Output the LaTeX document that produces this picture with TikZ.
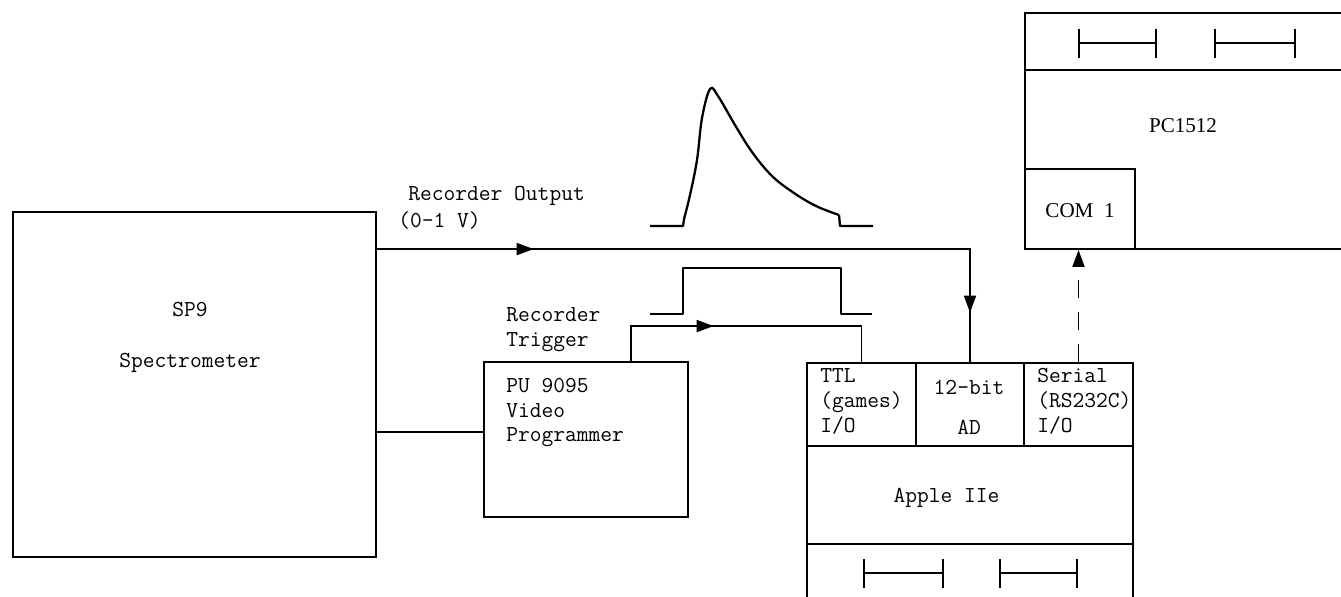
\documentclass[tikz,border=0pt]{standalone}
\usepackage{fontspec}
\setmainfont{Liberation Serif}
\usetikzlibrary{positioning, arrows.meta, calc, decorations.markings}

\begin{document}
\begin{tikzpicture}[
    x=0.02cm, y=-0.02cm,
    unit/.style={
        draw,
        rectangle,
        line width=1.1pt,
        inner sep=0pt
    },
    txt/.style={
        inner sep=0pt,
        align=left,
        font=\ttfamily\fontsize{13}{14.2}\selectfont
    },
    pctxt/.style={
        inner sep=0pt,
        font=\rmfamily\fontsize{12}{14}\selectfont
    },
    wire/.style={
        line width=1.1pt
    },
    sigtip/.tip={Triangle[length=3.4mm, width=2.4mm]},
    midarrow/.style={
        postaction={decorate, decoration={markings, mark=at position #1 with {\arrow{sigtip}}}}
    },
    slotbar/.style={
        line width=1.1pt,
        {Bar[width=5.8mm, line width=1.1pt]}-{Bar[width=5.8mm, line width=1.1pt]}
    },
    wave/.style={
        line width=1.3pt,
        line join=round
    }
]
    \useasboundingbox (0,0) rectangle (1341,596);
    \clip (0,0) rectangle (1341,596);

    % Boxes
    \node[unit, minimum width=7.26cm, minimum height=6.9cm] (sp9) at (194.5,384.5) {};
    \node[unit, minimum width=4.08cm, minimum height=3.1cm] (pu) at (586,439.5) {};
    \node[unit, minimum width=6.52cm, minimum height=5.14cm] (apple) at (970,491.5) {};
    \node[unit, minimum width=2.18cm, minimum height=1.66cm] (ttl) at (861.5,404.5) {};
    \node[unit, minimum width=2.16cm, minimum height=1.66cm] (ad) at (970,404.5) {};
    \node[unit, minimum width=2.18cm, minimum height=1.66cm] (serial) at (1078.5,404.5) {};
    \node[unit, minimum width=6.7cm, minimum height=4.72cm] (pc) at (1192.5,131) {};
    \node[unit, minimum width=2.2cm, minimum height=1.6cm] (com) at (1080,209) {};

    % Dividers
    \draw[wire] ([yshift=-3.64cm]apple.north west) -- ([yshift=-3.64cm]apple.north east);
    \draw[wire] ([yshift=-1.16cm]pc.north west) -- ([yshift=-1.16cm]pc.north east);

    % Labels
    \node[txt] (sp9lbl) at (190,310) {SP9};
    \node[txt] (speclbl) at (190,363) {Spectrometer};
    \node[txt, anchor=west] (pulbl) at (506,412.5) {PU 9095\\Video\\Programmer};
    \node[txt, anchor=west] (ttllbl) at (820,401.5) {TTL\\(games)\\I/O};
    \node[txt, align=center] (adlbl) at (969,407) {12-bit\\[3mm]AD};
    \node[txt, anchor=west] (seriallbl) at (1037,401) {Serial\\(RS232C)\\I/O};
    \node[txt] (applelbl) at (946.5,498) {Apple IIe};
    \node[pctxt] (pclbl) at (1183,126) {PC1512};
    \node[pctxt] (comlbl) at (1080,211) {COM\ \ 1};
    \node[txt, anchor=west] (outlbl) at (408,196) {Recorder Output};
    \node[txt, anchor=west] (voltlbl) at (398,221) {(0-1 V)};
    \node[txt, anchor=west] (triglbl) at (506,329.5) {Recorder\\Trigger};

    % Slot bars
    \draw[slotbar] (863,573) -- (944,573);
    \draw[slotbar] (999,573) -- (1078,573);
    \draw[slotbar] (1078,43) -- (1157,43);
    \draw[slotbar] (1214,43) -- (1296,43);

    % Signals
    \draw[wire, midarrow=0.222, midarrow=0.93] ([yshift=-0.76cm]sp9.north east) -| (ad.north);
    \draw[wire, midarrow=0.39] ([xshift=2.96cm]pu.north west) -- ++(0,-35) -| (ttl.north);
    \coordinate (puin) at ([yshift=0.15cm]pu.west);
    \draw[wire] (puin) -- (puin -| sp9.east);
    \draw[wire, dash pattern=on 0.36cm off 0.28cm, -{sigtip}] (serial.north) -- (serial.north |- com.south);

    % Waveforms
    \draw[wave] (650,226) -- (683,226) -- (684,219);
    \draw[wave] plot[smooth, tension=0.6] coordinates {(684,219) (690,195) (697,160) (702,118) (710,89) (718,96) (735,125) (752,152) (772,176) (794,193) (816,206) (839,215)};
    \draw[wave] (839,215) -- (840,226) -- (873,226);
    \draw[wave] (650,314) -- (683,314) -- (683,268) -- (841,268) -- (841,314) -- (872,314);

\end{tikzpicture}
\end{document}
